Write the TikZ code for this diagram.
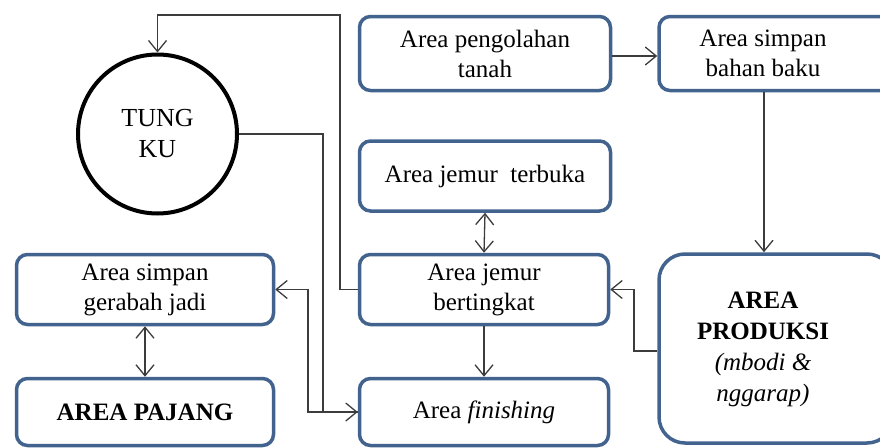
\documentclass[tikz,border=0pt]{standalone}
\usepackage{fontspec}
\setmainfont{Liberation Serif}
\usetikzlibrary{arrows.meta}
\definecolor{boxblue}{RGB}{66,99,142}
\definecolor{linegray}{RGB}{60,60,60}
\tikzset{
  areabox/.style={draw=boxblue, line width=3.5pt, rounded corners=11pt, fill=white,
    minimum width=#1, inner sep=0pt, align=center,
    font=\fontsize{25}{30}\selectfont},
  conn/.style={draw=linegray, line width=1.3pt,
    -{Straight Barb[length=11pt,width=18pt]}},
  dconn/.style={draw=linegray, line width=1.3pt,
    {Straight Barb[length=11pt,width=18pt]}-{Straight Barb[length=11pt,width=18pt]}},
  lbl/.style={align=center, inner sep=0pt, font=\fontsize{25}{30}\selectfont}
}
\begin{document}
\begin{tikzpicture}[x=1pt,y=-1pt]
\useasboundingbox (0,0) rectangle (880,447);
\clip (0,0) rectangle (880,447);
% boxes
\node[areabox=251pt, minimum height=74pt] (peng) at (485,53.5) {Area pengolahan\\tanah};
\node[areabox=236pt, minimum height=74pt] (baku) at (777,53.5) {};
\node[lbl] (bakut) at (763,53.5) {Area simpan\\bahan baku};
\node[areabox=251pt, minimum height=70pt] (terbuka) at (485,176) {Area jemur\ \ terbuka};
\node[areabox=249pt, minimum height=70pt] (bert) at (484,289.5) {Area jemur\\bertingkat};
\node[areabox=249pt, minimum height=67pt] (fin) at (484,412) {Area \textit{finishing}};
\node[areabox=257pt, minimum height=70pt] (gerabah) at (145,289.5) {Area simpan\\gerabah jadi};
\node[areabox=257pt, minimum height=67pt] (pajang) at (145,412) {\textbf{AREA PAJANG}};
\node[areabox=234pt, minimum height=189pt, rounded corners=26pt] (prod) at (776,348.5) {};
\node[lbl, font=\fontsize{25}{31}\selectfont] (prodt) at (763,349) {\textbf{AREA}\\\textbf{PRODUKSI}\\\textit{(mbodi \&}\\\textit{nggarap)}};
% kiln
\node[circle, draw=black, line width=4pt, minimum size=159pt, inner sep=0pt, align=center,
  font=\fontsize{26}{31}\selectfont] (tungku) at (157.5,134) {TUNG\\KU};
% connectors
\draw[conn] (peng.east |- 0,56) -- (baku.west |- 0,56);
\draw[conn] (baku.south -| 764,0) -- (prod.north -| 764,0);
\draw[dconn] (terbuka.south) -- (bert.north);
\draw[conn] (bert.south) -- (fin.north);
\draw[conn] (prod.west |- 0,351) -- (634,351) |- (bert.east);
\draw[conn] (bert.west) -- (340,289.5) |- (157.5,15) -- (tungku.north);
\draw[conn] (fin.west) -- (308,412) |- (gerabah.east);
\draw[conn] (tungku.east) -- (323,134) |- (fin.west);
\draw[dconn] (gerabah.south) -- (pajang.north);
\end{tikzpicture}
\end{document}
